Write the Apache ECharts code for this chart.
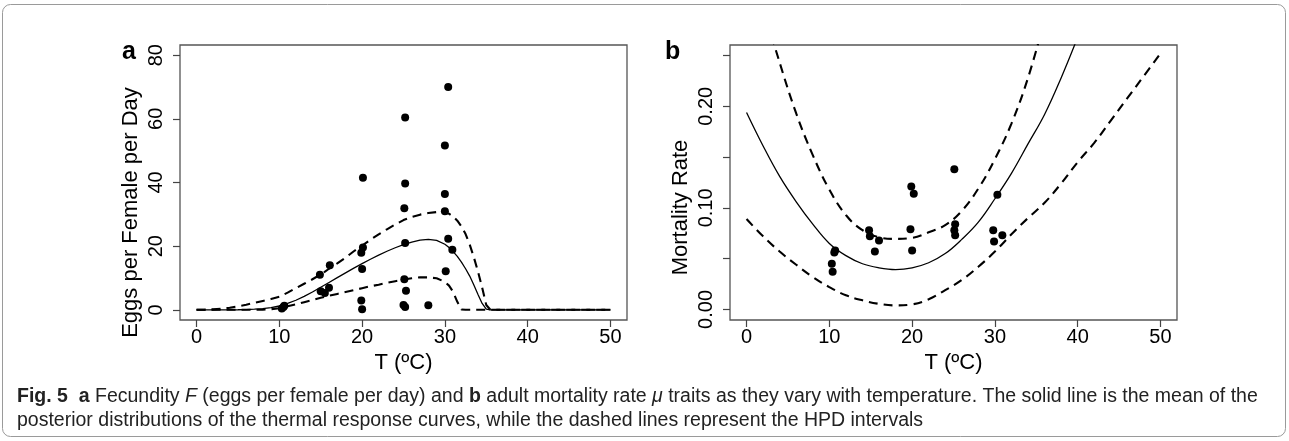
<!DOCTYPE html>
<html>
<head>
<meta charset="utf-8">
<script src="https://cdn.jsdelivr.net/npm/echarts@6/dist/echarts.min.js"></script>
<style>
  html, body { margin: 0; padding: 0; background: #fff; }
  #chart { width: 1289px; height: 441px; }
</style>
</head>
<body>
<div id="chart"></div>
<script>
// ---- Panel a: fecundity (eggs per female per day) ----
const eggTemp = [30.4, 25.2, 30.0, 20.1, 25.2, 30.0, 25.1, 30.0, 30.4, 25.2, 30.9, 20.1, 19.9, 20.0,
                 14.9, 16.1, 16.0, 15.0, 15.5, 19.9, 20.0, 25.1, 25.3, 25.0, 25.2, 28.0, 30.1, 10.3, 10.6, 10.5];
const eggRate = [70.0, 60.4, 51.6, 41.5, 39.7, 36.4, 31.9, 31.0, 22.3, 21.0, 18.9, 19.6, 17.9, 12.8,
                 11.0, 14.0, 6.9, 5.8, 5.3, 2.9, 0.2, 9.6, 6.0, 1.5, 0.9, 1.4, 12.1, 0.4, 1.3, 0.9];

// temperatures at which the fitted fecundity curves are tabulated
const curveTempA = [0, 1, 2, 3, 4, 5, 6, 7, 8, 9, 10, 11, 12, 13, 14, 15, 16, 17, 18, 19, 20,
                    21, 22, 23, 24, 25, 26, 27, 28, 29, 30, 30.5, 31, 31.5, 32, 32.5, 33, 33.5,
                    34, 34.5, 35, 35.5, 36, 38, 40, 42, 44, 46, 48, 50];
const eggMean  = [0, 0, 0, 0, 0, 0.02, 0.08, 0.2, 0.4, 0.7, 1.2, 2.0, 3.0, 4.2, 5.6, 7.1, 8.6, 10.1, 11.6, 13.1, 14.5,
                  15.9, 17.2, 18.4, 19.5, 20.5, 21.3, 21.9, 22.1, 21.8, 20.6, 19.6, 18.3, 16.8, 15.0, 12.9, 10.6, 7.8,
                  4.8, 2.0, 0.2, 0, 0, 0, 0, 0, 0, 0, 0, 0];
const eggUpper = [0, 0.05, 0.15, 0.35, 0.65, 1.1, 1.6, 2.2, 2.8, 3.4, 4.1, 5.4, 6.8, 8.2, 9.6, 11.1, 12.9, 14.6, 16.4, 18.4, 20.2,
                  22.0, 23.7, 25.3, 26.8, 28.2, 29.2, 29.9, 30.4, 30.7, 30.6, 30.2, 29.3, 28.0, 26.2, 23.8, 20.5, 16.5,
                  12.0, 7.0, 1.5, 0, 0, 0, 0, 0, 0, 0, 0, 0];
const eggLower = [0, 0, 0, 0, 0, 0, 0, 0, 0.05, 0.2, 0.5, 1.1, 1.7, 2.4, 3.1, 3.8, 4.4, 5.0, 5.6, 6.2, 6.8,
                  7.4, 7.9, 8.5, 9.0, 9.5, 9.9, 10.2, 10.2, 9.9, 8.8, 7.6, 5.6, 2.5, 0.1, 0, 0, 0,
                  0, 0, 0, 0, 0, 0, 0, 0, 0, 0, 0, 0];

// ---- Panel b: adult mortality rate ----
const mortTemp = [25.1, 19.9, 20.2, 30.3, 14.8, 14.9, 16.0, 19.8, 15.5, 20.0, 25.2, 25.1, 25.2,
                  29.8, 30.9, 29.9, 10.6, 10.7, 10.3, 10.4];
const mortRate = [0.138, 0.121, 0.114, 0.113, 0.078, 0.072, 0.068, 0.079, 0.057, 0.058, 0.084, 0.078, 0.073,
                  0.078, 0.073, 0.067, 0.056, 0.058, 0.045, 0.037];

const curveTempB = [0, 2, 4, 6, 8, 10, 12, 14, 16, 18, 20, 22, 24, 26, 28, 30, 32, 34, 36, 38, 40, 42, 44, 46, 48, 50];
const mortMean  = [0.194, 0.161, 0.131, 0.106, 0.084, 0.065, 0.053, 0.045, 0.041, 0.0393, 0.041, 0.046, 0.055,
                   0.069, 0.086, 0.109, 0.134, 0.163, 0.192, 0.228, 0.268, null, null, null, null, null];
const mortUpper = [null, 0.298, 0.243, 0.193, 0.152, 0.118, 0.093, 0.078, 0.071, 0.0695, 0.0705, 0.076, 0.083,
                   0.097, 0.119, 0.148, 0.183, 0.228, 0.285, null, null, null, null, null, null, null];
const mortLower = [0.089, 0.072, 0.057, 0.044, 0.032, 0.022, 0.014, 0.009, 0.0055, 0.004, 0.005, 0.010, 0.019,
                   0.029, 0.042, 0.057, 0.074, 0.090, 0.105, 0.124, 0.145, 0.164, 0.186, 0.208, 0.230, 0.252];

// ---- axis ticks ----
const tempTicks = [0, 10, 20, 30, 40, 50];
const eggTicks = [0, 20, 40, 60, 80];
const mortTicks = [0, 0.05, 0.10, 0.15, 0.20, 0.25];
const mortLabels = [0, 0.10, 0.20];

const FONT = 'Liberation Sans, Arial, sans-serif';
const pairs = (xs, ys) => xs.map((x, i) => [x, ys[i]]);

function xAxisFor(gridIndex) {
  return {
    type: 'value', gridIndex, min: -2, max: 52,
    name: 'T (ºC)', nameLocation: 'middle', nameGap: 31,
    nameTextStyle: { fontFamily: FONT, fontSize: 22, color: '#000' },
    axisLine: { show: false, onZero: false },
    splitLine: { show: false },
    axisTick: { show: true, length: 7, customValues: tempTicks, lineStyle: { color: '#444', width: 1.2 } },
    axisLabel: { customValues: tempTicks, fontFamily: FONT, fontSize: 20, color: '#000', margin: 7 }
  };
}

const curveLine = (data, dashed, xi) => ({
  type: 'line', xAxisIndex: xi, yAxisIndex: xi, data, showSymbol: false, symbol: 'none',
  silent: true, animation: false, clip: true, smooth: xi === 1 ? 0.4 : false,
  lineStyle: dashed ? { color: '#000', width: 2.1, type: [9, 6] } : { color: '#000', width: 1.3 }
});

const dots = (data, xi) => ({
  type: 'scatter', xAxisIndex: xi, yAxisIndex: xi, data, symbol: 'circle', symbolSize: 8,
  itemStyle: { color: '#000', opacity: 1 }, animation: false, silent: true
});

const chart = echarts.init(document.getElementById('chart'), null, { renderer: 'canvas' });
chart.setOption({
  backgroundColor: '#fff',
  animation: false,
  grid: [
    { left: 180, top: 45, width: 447, height: 275, show: true, borderColor: '#555', borderWidth: 1.3, backgroundColor: 'transparent' },
    { left: 730, top: 45, width: 447, height: 275, show: true, borderColor: '#555', borderWidth: 1.3, backgroundColor: 'transparent' }
  ],
  xAxis: [xAxisFor(0), xAxisFor(1)],
  yAxis: [
    {
      type: 'value', gridIndex: 0, min: -3.2, max: 83.2,
      name: 'Eggs per Female per Day', nameLocation: 'middle', nameGap: 38, nameRotate: 90,
      nameTextStyle: { fontFamily: FONT, fontSize: 22, color: '#000', padding: [0, 60, 0, 0] },
      axisLine: { show: false, onZero: false }, splitLine: { show: false },
      axisTick: { show: true, length: 7, customValues: eggTicks, lineStyle: { color: '#444', width: 1.2 } },
      axisLabel: { customValues: eggTicks, rotate: 90, fontFamily: FONT, fontSize: 20, color: '#000', margin: 14 }
    },
    {
      type: 'value', gridIndex: 1, min: -0.0104, max: 0.2604,
      name: 'Mortality Rate', nameLocation: 'middle', nameGap: 38, nameRotate: 90,
      nameTextStyle: { fontFamily: FONT, fontSize: 22, color: '#000', padding: [0, 50, 0, 0] },
      axisLine: { show: false, onZero: false }, splitLine: { show: false },
      axisTick: { show: true, length: 7, customValues: mortTicks, lineStyle: { color: '#444', width: 1.2 } },
      axisLabel: { customValues: mortLabels, rotate: 90, fontFamily: FONT, fontSize: 20, color: '#000', margin: 14,
                   formatter: v => v.toFixed(2) }
    }
  ],
  series: [
    curveLine(pairs(curveTempA, eggMean), false, 0),
    curveLine(pairs(curveTempA, eggUpper), true, 0),
    curveLine(pairs(curveTempA, eggLower), true, 0),
    dots(pairs(eggTemp, eggRate), 0),
    curveLine(pairs(curveTempB, mortMean), false, 1),
    curveLine(pairs(curveTempB, mortUpper), true, 1),
    curveLine(pairs(curveTempB, mortLower), true, 1),
    dots(pairs(mortTemp, mortRate), 1)
  ],
  graphic: [
    { type: 'rect', shape: { x: 2.5, y: 4.5, width: 1283, height: 432, r: 8 },
      style: { fill: 'none', stroke: '#9a9a9a', lineWidth: 1 }, silent: true, z: -1 },
    { type: 'text', left: 122, top: 40,
      style: { text: 'a', fontFamily: FONT, fontSize: 25, fontWeight: 'bold', fill: '#000' } },
    { type: 'text', left: 665, top: 40,
      style: { text: 'b', fontFamily: FONT, fontSize: 25, fontWeight: 'bold', fill: '#000' } },
    { type: 'text', left: 17, top: 385,
      style: {
        text: '{b|Fig. 5}  {b|a} Fecundity {i|F} (eggs per female per day) and {b|b} adult mortality rate {i|μ} traits as they vary with temperature. The solid line is the mean of the\nposterior distributions of the thermal response curves, while the dashed lines represent the HPD intervals',
        fontFamily: FONT, fontSize: 19.5, lineHeight: 24, fill: '#222',
        rich: {
          b: { fontFamily: FONT, fontSize: 19.5, fontWeight: 'bold', fill: '#222' },
          i: { fontFamily: FONT, fontSize: 19.5, fontStyle: 'italic', fill: '#222' }
        }
      } }
  ]
});
</script>
</body>
</html>
